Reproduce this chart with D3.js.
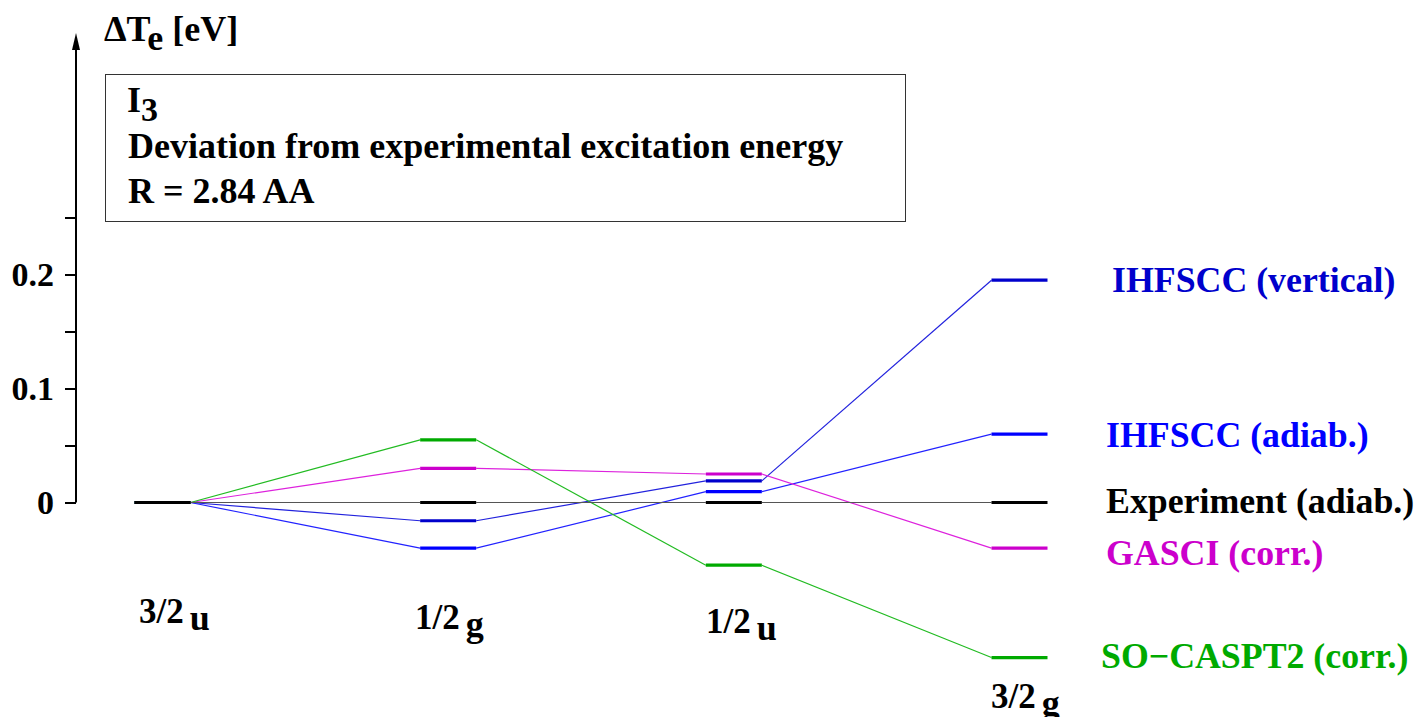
<!DOCTYPE html>
<html>
<head>
<meta charset="utf-8">
<script src="https://cdn.jsdelivr.net/npm/d3@7"></script>
<style>
  body { margin: 0; background: white; }
  text { font-family: 'Liberation Serif', 'DejaVu Serif', serif; font-weight: bold; }
</style>
</head>
<body>
<div id="chart"></div>
<script>
// states (x categories)
const states = ['3/2', '1/2', '1/2', '3/2'];
const stateSubs = ['u', 'g', 'u', 'g'];

// deviations from experiment in eV, one array per method
const vertical = [0, -0.016, 0.019, 0.195];
const adiab = [0, -0.040, 0.0095, 0.060];
const gasci = [0, 0.030, 0.025, -0.040];
const caspt2 = [0, 0.055, -0.055, -0.136];
const experiment = [0, 0, 0, 0];

const seriesNames = ['IHFSCC (vertical)', 'IHFSCC (adiab.)', 'GASCI (corr.)', 'SO\u2212CASPT2 (corr.)', 'Experiment (adiab.)'];
const seriesValues = [vertical, adiab, gasci, caspt2, experiment];

const yTicks = [0, 0.1, 0.2];
const yMinorTicks = [0.05, 0.15, 0.25];

let width = 1420, height = 717;

let svg = d3.select('#chart')
            .append('svg')
            .attr('width', width)
            .attr('height', height);

// scales
let yScale = d3.scaleLinear()
            .domain([0, 0.1])
            .range([502.5, 388.5]);

let xScale = d3.scaleLinear()
            .domain([0, 3])
            .range([162.5, 1019.5]);

let halfW = 28;
let colors = ['#0000cc', '#0000ff', '#cc00cc', '#00aa00', '#000000'];
let lineColors = ['#2222dd', '#2222ff', '#dd22dd', '#22bb22', '#555555'];

// y axis
let axisX = 76;
svg.append('line')
    .attr('x1', axisX).attr('x2', axisX)
    .attr('y1', yScale(0)).attr('y2', 44)
    .attr('stroke', 'black').attr('stroke-width', 2);
svg.append('path')
    .attr('d', `M${axisX - 4},${50} L${axisX},${33} L${axisX + 4},${50} Z`)
    .attr('fill', 'black');

let yAxis = svg.append('g')
            .attr('transform', `translate(${axisX}, 0)`)
            .call(d3.axisLeft(yScale)
                .tickValues(yTicks.concat(yMinorTicks))
                .tickSize(11)
                .tickPadding(11)
                .tickFormat(d => yTicks.includes(d) ? d3.format('')(d) : ''));
yAxis.select('.domain').remove();
yAxis.selectAll('.tick line').attr('stroke-width', 2);
yAxis.selectAll('.tick text')
    .style('font-size', '34px')
    .style('font-family', "'Liberation Serif', serif")
    .style('font-weight', 'bold')
    .attr('dy', '0.33em');

// axis title
let title = svg.append('text')
    .attr('x', 104).attr('y', 41)
    .style('font-size', '36px');
title.append('tspan').text('\u0394T');
title.append('tspan').attr('dy', 9).style('font-size', '36px').text('e');
title.append('tspan').attr('dy', -9).text(' [eV]');

// info box
svg.append('rect')
    .attr('x', 105.5).attr('y', 74.5)
    .attr('width', 800).attr('height', 147)
    .attr('fill', 'white')
    .attr('stroke', '#333').attr('stroke-width', 1);

let t1 = svg.append('text').attr('x', 127).attr('y', 112).style('font-size', '36px');
t1.append('tspan').text('I');
t1.append('tspan').attr('dy', 9).style('font-size', '34px').text('3');
svg.append('text').attr('x', 128).attr('y', 158).style('font-size', '36px')
    .text('Deviation from experimental excitation energy');
svg.append('text').attr('x', 128).attr('y', 203).style('font-size', '36px')
    .text('R = 2.84 AA');

// connecting lines and levels
seriesValues.forEach(function(vals, s) {
    let segs = d3.pairs(vals.map((v, i) => [i, v]));
    svg.append('g').selectAll('line.conn')
        .data(segs)
        .enter()
        .append('line')
        .attr('x1', d => xScale(d[0][0]) + halfW)
        .attr('y1', d => yScale(d[0][1]))
        .attr('x2', d => xScale(d[1][0]) - halfW)
        .attr('y2', d => yScale(d[1][1]))
        .attr('stroke', lineColors[s])
        .attr('stroke-width', 1.2);
});

seriesValues.forEach(function(vals, s) {
    svg.append('g').selectAll('line.level')
        .data(vals)
        .enter()
        .append('line')
        .attr('x1', (d, i) => xScale(i) - halfW)
        .attr('x2', (d, i) => xScale(i) + halfW)
        .attr('y1', d => yScale(d))
        .attr('y2', d => yScale(d))
        .attr('stroke', colors[s])
        .attr('stroke-width', 3.2);
});

// series labels at right
let labelY = [292, 447, 565, 668, 513];
let labelX = [1112, 1106, 1106, 1101, 1106];
seriesNames.forEach(function(name, s) {
    svg.append('text')
        .attr('x', labelX[s])
        .attr('y', labelY[s])
        .style('font-size', '35.8px')
        .attr('fill', colors[s])
        .text(name);
});

// state labels
let stateLabelY = [623, 629, 633, 708];
let stateLabelX = [139, 415, 706, 991];
states.forEach(function(st, i) {
    let t = svg.append('text')
        .attr('x', stateLabelX[i])
        .attr('y', stateLabelY[i])
        .style('font-size', '35px');
    t.append('tspan').text(st);
    t.append('tspan').attr('dx', 6).attr('dy', 7).style('font-size', '36px').text(stateSubs[i]);
});
</script>
</body>
</html>
